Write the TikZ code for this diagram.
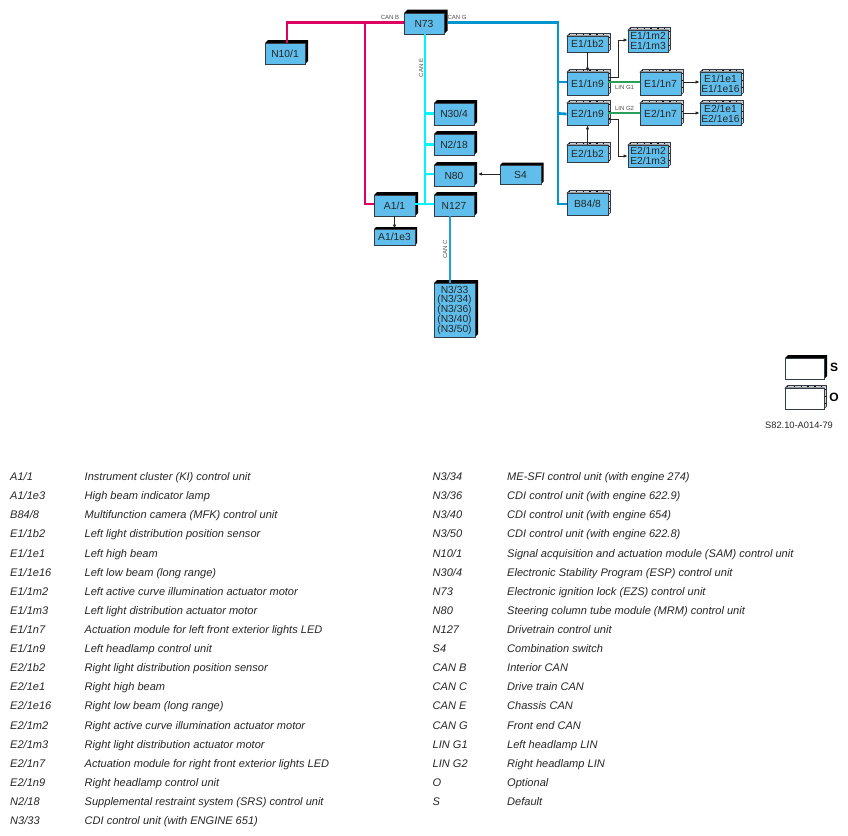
\documentclass[tikz,border=0pt]{standalone}
\usepackage{fontspec}
\setmainfont{Liberation Sans}
\definecolor{boxblue}{RGB}{96,190,236}
\definecolor{canb}{RGB}{222,0,98}
\definecolor{cane}{RGB}{0,245,252}
\definecolor{cang}{RGB}{0,150,205}
\definecolor{canc}{RGB}{30,160,215}
\definecolor{ling}{RGB}{40,160,90}
\definecolor{edgegray}{RGB}{50,60,70}
\tikzset{
  base box/.style={draw=edgegray,line width=0.8pt,fill=boxblue,inner sep=0pt,align=center,
    font=\fontsize{10.3}{9.8}\selectfont,text=black!85},
  bus/.style={line width=2.8pt,line cap=butt,line join=miter},
  sig/.style={line width=0.9pt,draw=black!85,-{Latex[length=4pt,width=3.5pt]}},
  tag/.style={font=\fontsize{6}{6}\selectfont,text=black!70,inner sep=0pt},
  legc/.style={font=\fontsize{11.05}{12}\selectfont\itshape,text=black!85,anchor=base west,inner sep=0pt},
}
\usetikzlibrary{arrows.meta}
% \stdbox{name}{x0}{y0}{x1}{y1}{depth}{fill}{text}
\newcommand{\stdbox}[8]{%
  \fill[black] (#2,#3) -- ++(#6,-#6) -- (#4+#6,#3-#6) -- (#4+#6,#5-#6) -- (#4,#5) -- (#4,#3) -- cycle;
  \node[base box,fill=#7,minimum width=#4pt-#2pt,minimum height=#5pt-#3pt] (#1) at ({(#2+#4)/2},{(#3+#5)/2}) {#8};
}
\newcommand{\optbox}[7]{%
  \filldraw[draw=edgegray,line width=0.6pt,fill=black!18] (#2,#3) -- ++(2.5,-2.5) -- (#4+2.5,#3-2.5) -- (#4+2.5,#5-2.5) -- (#4,#5) -- (#4,#3) -- cycle;
  \draw[black,line width=1.2pt,dash pattern=on 1.4pt off 5.4pt] (#2+2,#3-1.3) -- (#4,#3-1.3);
  \draw[black,line width=1.2pt,dash pattern=on 1.4pt off 5.4pt] (#4+1.3,#3+1) -- (#4+1.3,#5-2);
  \node[base box,fill=#6,minimum width=#4pt-#2pt,minimum height=#5pt-#3pt] (#1) at ({(#2+#4)/2},{(#3+#5)/2}) {#7};
}
\newcommand{\legrow}[5]{%
  \node[legc] (#1code) at (#2,#3) {#4};
  \node[legc] (#1desc) at (#2+74.5,#3) {#5};
}
\begin{document}
\begin{tikzpicture}[x=1pt,y=-1pt]
\useasboundingbox (0,0) rectangle (848,835);
% named junctions
\coordinate (jBl) at (287,22.5);
\coordinate (jBm) at (365,22.5);
\coordinate (jBb) at (365,204);
\coordinate (jE) at (425,204);
\coordinate (jGt) at (558,22.5);
\coordinate (jGb) at (558,204);
% boxes
\stdbox{N73}{404}{13}{444}{34}{3.5}{boxblue}{N73}
\stdbox{N10}{265}{43}{305}{64}{3}{boxblue}{N10/1}
\stdbox{N304}{434}{103}{474}{125}{3}{boxblue}{N30/4}
\stdbox{N218}{434}{134}{474}{155}{3}{boxblue}{N2/18}
\stdbox{N80}{434}{165}{474}{186}{3}{boxblue}{N80}
\stdbox{N127}{434}{195}{474}{216}{3}{boxblue}{N127}
\stdbox{A11}{374}{195}{415}{216}{3}{boxblue}{A1/1}
\stdbox{A11e}{374}{229}{415}{245}{2}{boxblue}{A1/1e3}
\stdbox{S4}{500}{165}{541}{184}{2.5}{boxblue}{S4}
\stdbox{N333}{434}{283}{475}{337}{3}{boxblue}{N3/33\\(N3/34)\\(N3/36)\\(N3/40)\\(N3/50)}
\optbox{E1b}{567}{36}{608}{52}{boxblue}{E1/1b2}
\optbox{E1m}{628}{30}{668}{52}{boxblue}{E1/1m2\\E1/1m3}
\optbox{E1n9}{567}{72}{608}{95}{boxblue}{E1/1n9}
\optbox{E1n7}{640}{72}{681}{95}{boxblue}{E1/1n7}
\optbox{E1e}{700}{72}{741}{95}{boxblue}{E1/1e1\\E1/1e16}
\optbox{E2n9}{567}{103}{608}{125}{boxblue}{E2/1n9}
\optbox{E2n7}{640}{103}{681}{125}{boxblue}{E2/1n7}
\optbox{E2e}{700}{103}{741}{125}{boxblue}{E2/1e1\\E2/1e16}
\optbox{E2b}{567}{145}{608}{162}{boxblue}{E2/1b2}
\optbox{E2m}{628}{145}{668}{167}{boxblue}{E2/1m2\\E2/1m3}
\optbox{B84}{567}{193}{608}{215}{boxblue}{B84/8}
% buses
\draw[bus,canb] (N73.west |- jBl) -- (jBl) -- (jBl |- N10.north);
\draw[bus,canb] (jBm) -- (jBb) -- (A11.west |- jBb);
\draw[bus,cang] ([xshift=3.5pt]N73.east |- jGt) -- (jGt) -- (jGb) -- (B84.west |- jGb);
\draw[bus,cang] (558,82) -- (E1n9.west |- 558,82);
\draw[bus,cang] (558,113.5) -- (E2n9.west);
\draw[bus,cane] (425,34) -- (jE);
\draw[bus,cane] (A11.east |- jE) -- (N127.west |- jE);
\draw[bus,cane] (425,113.5) -- (N304.west |- 425,113.5);
\draw[bus,cane] (425,144.5) -- (N218.west);
\draw[bus,cane] (425,174) -- (N80.west |- 425,174);
\draw[bus,canc] (450,216) -- (450,283);
\draw[line width=1.8pt,ling] (E1n9.east |- 608,82) -- (E1n7.west |- 608,82);
\draw[line width=1.8pt,ling] (E2n9.east |- 608,113) -- (E2n7.west |- 608,113);
% signals
\draw[sig] (A11.south) -- (A11e.north);
\draw[sig] (S4.west |- 500,174) -- ([xshift=3.5pt]N80.east |- 500,174);
\draw[sig] (E1b.south) -- (E1n9.north);
\draw[sig] (E2b.north) -- (E2n9.south);
\draw[sig] (E1n9.east |- 608,77) -- (618,77) -- (618,40) -- (E1m.west |- 618,40);
\draw[sig] (E2n9.east |- 608,119) -- (618,119) -- (618,156) -- (E2m.west |- 618,156);
\draw[sig] ([xshift=2pt]E1n7.east |- 681,82) -- (E1e.west |- 681,82);
\draw[sig] ([xshift=2pt]E2n7.east |- 681,113) -- (E2e.west |- 681,113);
% connector labels
\node[tag] (tB) at (390,17.5) {CAN B};
\node[tag] (tG) at (457,17.5) {CAN G};
\node[tag,rotate=90] (tE) at (421,68) {CAN E};
\node[tag,rotate=90] (tC) at (445,249) {CAN C};
\node[tag] (tL1) at (624.5,87.5) {LIN G1};
\node[tag] (tL2) at (624.5,108.5) {LIN G2};
% key
\stdbox{keyS}{785}{358}{824}{379}{3}{white}{}
\optbox{keyO}{785}{388}{824}{409}{white}{}
\node[font=\fontsize{12}{12}\selectfont\bfseries,inner sep=0pt] (keySt) at (834,367) {S};
\node[font=\fontsize{12}{12}\selectfont\bfseries,inner sep=0pt] (keyOt) at (834,397) {O};
\node[font=\fontsize{9.3}{10}\selectfont,inner sep=0pt,text=black!85] (docid) at (799,425) {S82.10-A014-79};
% legend
\legrow{la}{10}{480}{A1/1}{Instrument cluster (KI) control unit}
\legrow{lb}{10}{499}{A1/1e3}{High beam indicator lamp}
\legrow{lc}{10}{518}{B84/8}{Multifunction camera (MFK) control unit}
\legrow{ld}{10}{537}{E1/1b2}{Left light distribution position sensor}
\legrow{le}{10}{557}{E1/1e1}{Left high beam}
\legrow{lf}{10}{576}{E1/1e16}{Left low beam (long range)}
\legrow{lg}{10}{595}{E1/1m2}{Left active curve illumination actuator motor}
\legrow{lh}{10}{614}{E1/1m3}{Left light distribution actuator motor}
\legrow{li}{10}{633}{E1/1n7}{Actuation module for left front exterior lights LED}
\legrow{lj}{10}{652}{E1/1n9}{Left headlamp control unit}
\legrow{lk}{10}{671}{E2/1b2}{Right light distribution position sensor}
\legrow{ll}{10}{690}{E2/1e1}{Right high beam}
\legrow{lm}{10}{709}{E2/1e16}{Right low beam (long range)}
\legrow{ln}{10}{729}{E2/1m2}{Right active curve illumination actuator motor}
\legrow{lo}{10}{748}{E2/1m3}{Right light distribution actuator motor}
\legrow{lp}{10}{767}{E2/1n7}{Actuation module for right front exterior lights LED}
\legrow{lq}{10}{786}{E2/1n9}{Right headlamp control unit}
\legrow{lr}{10}{805}{N2/18}{Supplemental restraint system (SRS) control unit}
\legrow{ls}{10}{824}{N3/33}{CDI control unit (with ENGINE 651)}
\legrow{ra}{432.5}{480}{N3/34}{ME-SFI control unit (with engine 274)}
\legrow{rb}{432.5}{499}{N3/36}{CDI control unit (with engine 622.9)}
\legrow{rc}{432.5}{518}{N3/40}{CDI control unit (with engine 654)}
\legrow{rd}{432.5}{537}{N3/50}{CDI control unit (with engine 622.8)}
\legrow{re}{432.5}{557}{N10/1}{Signal acquisition and actuation module (SAM) control unit}
\legrow{rf}{432.5}{576}{N30/4}{Electronic Stability Program (ESP) control unit}
\legrow{rg}{432.5}{595}{N73}{Electronic ignition lock (EZS) control unit}
\legrow{rh}{432.5}{614}{N80}{Steering column tube module (MRM) control unit}
\legrow{ri}{432.5}{633}{N127}{Drivetrain control unit}
\legrow{rj}{432.5}{652}{S4}{Combination switch}
\legrow{rk}{432.5}{671}{CAN B}{Interior CAN}
\legrow{rl}{432.5}{690}{CAN C}{Drive train CAN}
\legrow{rm}{432.5}{709}{CAN E}{Chassis CAN}
\legrow{rn}{432.5}{729}{CAN G}{Front end CAN}
\legrow{ro}{432.5}{748}{LIN G1}{Left headlamp LIN}
\legrow{rp}{432.5}{767}{LIN G2}{Right headlamp LIN}
\legrow{rq}{432.5}{786}{O}{Optional}
\legrow{rr}{432.5}{805}{S}{Default}
\end{tikzpicture}
\end{document}
